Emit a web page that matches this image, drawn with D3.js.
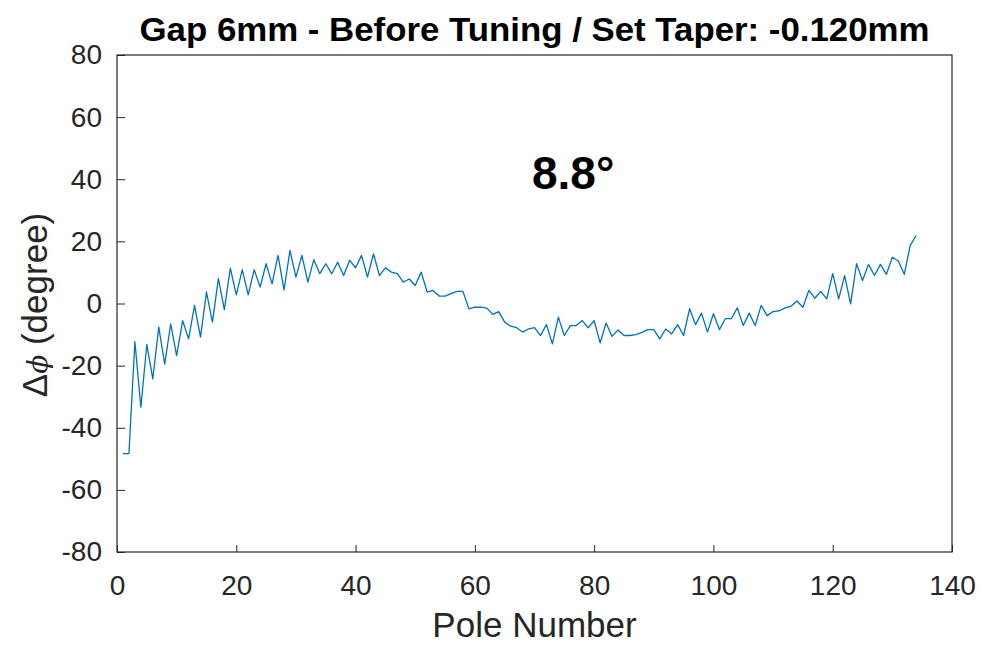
<!DOCTYPE html>
<html>
<head>
<meta charset="utf-8">
<script src="https://cdn.jsdelivr.net/npm/d3@7"></script>
<style>
  body { margin: 0; background: #fff; }
  text { font-family: "Liberation Sans", Arial, Helvetica, sans-serif; }
</style>
</head>
<body>
<div id="chart"></div>
<script>
// Phase error per pole.
const poles = d3.range(1, 135);
const phaseError = [
  -48.3, -48.3, -12.3, -33.4, -13.2, -24.3, -7.6, -19.5, -6.6, -16.8,
  -5.5, -11.4, -0.6, -10.8, 3.7, -6.0, 8.0, -2.0, 11.4, 2.8,
  10.9, 2.8, 10.9, 5.3, 12.8, 6.3, 15.5, 4.4, 17.1, 8.5,
  15.5, 6.9, 14.1, 9.6, 12.8, 9.6, 13.3, 9.0, 13.9, 11.5,
  15.5, 8.5, 16.0, 9.0, 11.5, 10.1, 9.6, 6.9, 7.9, 5.8,
  10.1, 3.7, 4.2, 2.4, 2.4, 3.2, 3.9, 3.9, -1.7, -1.2,
  -1.2, -1.5, -3.5, -2.6, -6.0, -7.3, -7.8, -9.2, -8.2, -7.8,
  -10.3, -6.8, -13.0, -4.4, -10.3, -7.1, -7.1, -5.5, -7.8, -5.5,
  -12.7, -6.3, -10.6, -8.5, -10.3, -10.3, -10.0, -9.3, -8.4, -8.4,
  -11.4, -8.2, -9.8, -6.8, -10.3, -1.7, -6.8, -3.1, -9.2, -3.3,
  -8.4, -4.9, -4.9, -1.4, -7.1, -3.1, -7.1, -0.6, -3.9, -2.6,
  -2.4, -1.4, -0.9, 0.8, -1.2, 4.2, 1.7, 3.9, 1.5, 9.6,
  1.5, 9.0, -0.1, 12.8, 7.4, 12.6, 9.0, 12.6, 9.4, 14.9,
  13.7, 9.4, 18.7, 21.9
];
const xTicks = [0, 20, 40, 60, 80, 100, 120, 140];
const yTicks = [-80, -60, -40, -20, 0, 20, 40, 60, 80];
const titleText = "Gap 6mm - Before Tuning / Set Taper: -0.120mm";
const annotation = "8.8°";

const W = 981, H = 646;
const margin = { top: 55, right: 29, bottom: 94, left: 117 };
const width = W - margin.left - margin.right,
  height = H - margin.top - margin.bottom;

const axisColor = "#262626";

const svg = d3.select("#chart")
  .append("svg")
  .attr("width", W)
  .attr("height", H);

const g = svg.append("g")
  .attr("transform", `translate(${margin.left}, ${margin.top})`);

const x = d3.scaleLinear().domain([0, 140]).range([0, width]);
const y = d3.scaleLinear().domain([-80, 80]).range([height, 0]);

// Data line
const line = d3.line()
  .x((d, i) => x(poles[i]))
  .y(d => y(d));

g.append("path")
  .datum(phaseError)
  .attr("fill", "none")
  .attr("stroke", "#0072BD")
  .attr("stroke-width", 1.3)
  .attr("stroke-linejoin", "round")
  .attr("d", line);

// Axes (ticks point inward, like MATLAB), plain hyphen for negatives
const fmt = d => String(d);
const xAxis = g.append("g")
  .attr("transform", `translate(0, ${height})`)
  .call(d3.axisBottom(x).tickValues(xTicks).tickFormat(fmt)
    .tickSizeInner(-7).tickSizeOuter(0).tickPadding(23));
const yAxis = g.append("g")
  .call(d3.axisLeft(y).tickValues(yTicks).tickFormat(fmt)
    .tickSizeInner(-8).tickSizeOuter(0).tickPadding(15));

[xAxis, yAxis].forEach(a => {
  a.select(".domain").remove();
  a.selectAll("line").attr("stroke", axisColor);
  a.selectAll("text")
    .attr("fill", axisColor)
    .style("font-size", "28px")
    .style("font-family", "'Liberation Sans', Arial, sans-serif");
});

// Box around plot area
g.append("rect")
  .attr("width", width)
  .attr("height", height)
  .attr("fill", "none")
  .attr("stroke", axisColor)
  .attr("stroke-width", 1.2);

// Title
svg.append("text")
  .attr("x", margin.left + width / 2)
  .attr("y", 41)
  .attr("text-anchor", "middle")
  .attr("fill", "#000")
  .attr("textLength", 790)
  .attr("lengthAdjust", "spacingAndGlyphs")
  .style("font-size", "34px")
  .style("font-weight", "bold")
  .text(titleText);

// X label
svg.append("text")
  .attr("x", margin.left + width / 2)
  .attr("y", 637)
  .attr("text-anchor", "middle")
  .attr("fill", axisColor)
  .style("font-size", "35px")
  .text("Pole Number");

// Y label
const yl = svg.append("text")
  .attr("transform", `translate(47, 305) rotate(-90)`)
  .attr("text-anchor", "middle")
  .attr("fill", axisColor)
  .style("font-size", "35px");
yl.append("tspan").text("Δ");
yl.append("tspan").style("font-style", "italic").style("font-family", "'DejaVu Serif', serif").style("font-size", "28px").text("ϕ");
yl.append("tspan").text(" (degree)");

// Annotation
svg.append("text")
  .attr("x", 532)
  .attr("y", 189)
  .attr("fill", "#000")
  .style("font-size", "46px")
  .style("font-weight", "bold")
  .text(annotation);
</script>
</body>
</html>
